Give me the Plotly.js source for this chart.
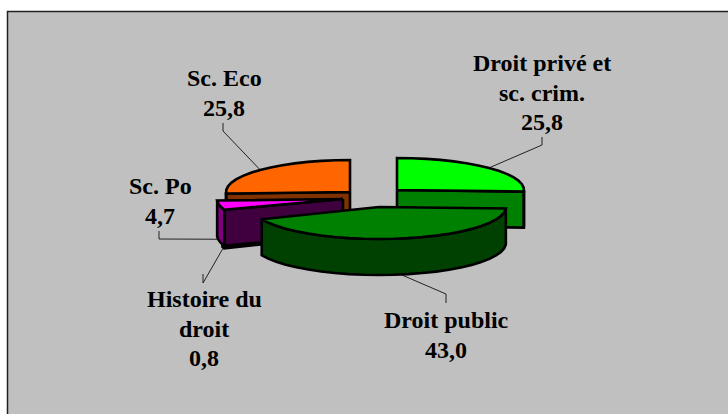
<!DOCTYPE html>
<html><head><meta charset="utf-8">
<script src="https://cdn.plot.ly/plotly-3.0.1.min.js"></script>
<style>html,body{margin:0;padding:0;background:#fff}#c{width:728px;height:414px}</style>
</head><body><div id="c"></div>
<script>
// Data
const categories = ["Droit privé et sc. crim.", "Droit public", "Histoire du droit", "Sc. Po", "Sc. Eco"];
const values = [25.8, 43.0, 0.8, 4.7, 25.8];
const labelLines = [["Droit privé et", "sc. crim."], ["Droit public"], ["Histoire du", "droit"], ["Sc. Po"], ["Sc. Eco"]];

// Styles
const topColors = ["#00ff00", "#008000", "#660066", "#ff00ff", "#ff6600"];
const radialColors = ["#008000", "#004000", "#330033", "#400040", "#803300"];
const arcColors = ["#004000", "#004000", "#660066", "#800080", "#803300"];

// Layout of the exploded, tilted pie, in pixel-mapped axis units
const apex = [[397, 190], [379, 207], [341, 200], [343, 199], [350, 192]];
const radiusX = [127, 127, 126, 126, 124];
const radiusY = 32;
const depth = 36;
const elbows = [[[542, 137], [542, 145]], [[446, 303], [446, 294]], [[203, 274], [203, 283]], [[159, 231], [159, 239]], [[223, 123], [223, 131]]];
const anchorBottom = [false, true, true, true, false];
const anchorShift = [0, 0, 0, -2, 0];
const labelX = [542, 446, 204, 160, 224];
const labelY = [63, 320, 299, 186, 78];
const lineGap = 29.5;
const drawOrder = [4, 0, 2, 3, 1];

const total = values.reduce((a, b) => a + b, 0);
let acc = 0;
const spans = values.map(v => { const s = acc; acc += v; return [s / total * 360, acc / total * 360]; });
const rad = d => d * Math.PI / 180;
const pt = (i, deg, dz) => [apex[i][0] + radiusX[i] * Math.sin(rad(deg)), apex[i][1] - radiusY * Math.cos(rad(deg)) + (dz || 0)];
function arc(i, a, b) {
  const n = Math.max(1, Math.ceil(Math.abs(b - a) / 7)), out = [];
  for (let k = 0; k <= n; k++) out.push(pt(i, a + (b - a) * k / n));
  return out;
}
function poly(points, fill, w) {
  return { type: "scatter", mode: "lines", x: points.map(p => p[0]), y: points.map(p => p[1]), fill: "toself",
    fillcolor: fill, line: { color: "#000", width: w === undefined ? 2.6 : w, shape: "linear", simplify: false }, hoverinfo: "skip", showlegend: false };
}
function closed(p) { return p.concat([p[0]]); }
const down = p => [p[0], p[1] + depth];
const traces = [];

// Leader lines, from each slice's mid-angle on its edge to an elbow near its label
values.forEach((v, i) => {
  const mid = (spans[i][0] + spans[i][1]) / 2;
  const a = pt(i, mid, (anchorBottom[i] ? depth : 0) + anchorShift[i]);
  const pts = [elbows[i][0], elbows[i][1], a];
  traces.push({ type: "scatter", mode: "lines", x: pts.map(p => p[0]), y: pts.map(p => p[1]),
    line: { color: "#222", width: 1 }, hoverinfo: "skip", showlegend: false });
});

// Slices, back to front
drawOrder.forEach(i => {
  const [s, e] = spans[i];
  const A = apex[i];
  const faces = [[s, pt(i, s)], [e, pt(i, e)]];
  faces.forEach(([deg, P]) => {
    const frontFacing = (deg > 60 && deg < 100 && deg === e) || (deg > 240 && deg === s);
    if (frontFacing) traces.push(poly(closed([A, P, down(P), down(A)]), radialColors[i]));
  });
  const fa = Math.max(s, 90), fb = Math.min(e, 270);
  if (fb > fa) {
    const t = arc(i, fa, fb);
    traces.push(poly(closed(t.concat(t.slice().reverse().map(down))), arcColors[i]));
  }
  traces.push(poly(closed([A].concat(arc(i, s, e))), topColors[i]));
});

// Text labels
const font = { family: "Liberation Serif, serif", size: 24, color: "#000" };
const annotations = [];
values.forEach((v, i) => {
  const lines = labelLines[i].concat([v.toFixed(1).replace(".", ",")]);
  lines.forEach((t, k) => annotations.push({ x: labelX[i], y: labelY[i] + k * lineGap, xref: "x", yref: "y", text: "<b>" + t + "</b>",
    showarrow: false, font: font, xanchor: "center", yanchor: "middle" }));
});

Plotly.newPlot("c", traces, {
  width: 728, height: 414, margin: { l: 0, r: 0, t: 0, b: 0 }, paper_bgcolor: "#fff", plot_bgcolor: "#fff",
  xaxis: { range: [0, 728], visible: false, fixedrange: true },
  yaxis: { range: [414, 0], visible: false, fixedrange: true },
  shapes: [{ type: "rect", xref: "x", yref: "y", x0: 7.5, x1: 740, y0: 11.5, y1: 430, fillcolor: "#c0c0c0", line: { color: "#222", width: 1.5 }, layer: "below" }],
  annotations: annotations, showlegend: false
}, { displayModeBar: false, staticPlot: true });
</script></body></html>
